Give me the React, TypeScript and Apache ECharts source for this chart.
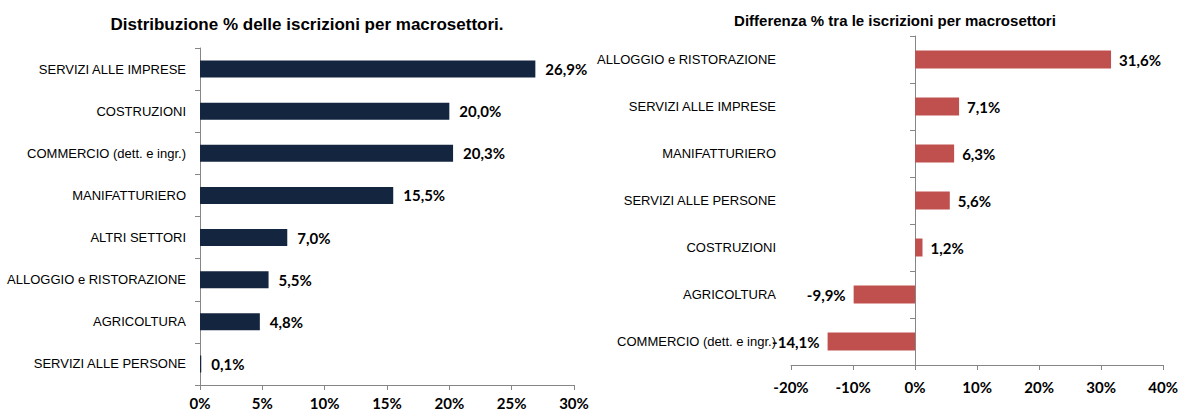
import React, { useEffect, useRef } from "react";
import * as echarts from "echarts";

const leftCategories = [
  "SERVIZI ALLE IMPRESE",
  "COSTRUZIONI",
  "COMMERCIO (dett. e ingr.)",
  "MANIFATTURIERO",
  "ALTRI SETTORI",
  "ALLOGGIO e RISTORAZIONE",
  "AGRICOLTURA",
  "SERVIZI ALLE PERSONE",
];
const leftValues = [26.9, 20.0, 20.3, 15.5, 7.0, 5.5, 4.8, 0.1];

const rightCategories = [
  "ALLOGGIO e RISTORAZIONE",
  "SERVIZI ALLE IMPRESE",
  "MANIFATTURIERO",
  "SERVIZI ALLE PERSONE",
  "COSTRUZIONI",
  "AGRICOLTURA",
  "COMMERCIO (dett. e ingr.)",
];
const rightValues = [31.6, 7.1, 6.3, 5.6, 1.2, -9.9, -14.1];

const leftTitle = "Distribuzione % delle iscrizioni per macrosettori.";
const rightTitle = "Differenza % tra le iscrizioni per macrosettori";

const SANS = "'Liberation Sans', Arial, sans-serif";
const BOLDNUM = "Lato, 'Open Sans', sans-serif";
const AXIS = "#868686";

const fmt = (v: number) => v.toFixed(1).replace(".", ",") + "%";

export default function App() {
  const ref = useRef<HTMLDivElement>(null);
  useEffect(() => {
    if (!ref.current) return;
    const chart = echarts.init(ref.current, null, { renderer: "svg" });
    const valueLabel = {
      fontFamily: BOLDNUM,
      fontWeight: "bold",
      fontSize: 15,
      color: "#000",
    };
    chart.setOption({
      animation: false,
      backgroundColor: "#ffffff",
      title: [
        {
          text: leftTitle,
          left: 302,
          textAlign: "center",
          top: 11,
          textStyle: { fontFamily: SANS, fontSize: 17, fontWeight: "bold", color: "#000" },
        },
        {
          text: rightTitle,
          left: 890,
          textAlign: "center",
          top: 8,
          textStyle: { fontFamily: SANS, fontSize: 15, fontWeight: "bold", color: "#000" },
        },
      ],
      grid: [
        { left: 200, width: 374, top: 48, height: 337 },
        { left: 791, width: 373, top: 36, height: 329 },
      ],
      xAxis: [
        {
          gridIndex: 0,
          type: "value",
          min: 0,
          max: 30,
          interval: 5,
          splitLine: { show: false },
          axisLine: { show: true, lineStyle: { color: AXIS } },
          axisTick: { show: true, length: 5, lineStyle: { color: AXIS } },
          axisLabel: {
            formatter: (v: number) => v + "%",
            ...valueLabel,
            margin: 10,
          },
        },
        {
          gridIndex: 1,
          type: "value",
          min: -20,
          max: 40,
          interval: 10,
          splitLine: { show: false },
          axisLine: { show: true, lineStyle: { color: AXIS } },
          axisTick: { show: true, length: 5, lineStyle: { color: AXIS } },
          axisLabel: {
            formatter: (v: number) => v + "%",
            ...valueLabel,
            margin: 14,
          },
        },
      ],
      yAxis: [
        {
          gridIndex: 0,
          type: "category",
          data: leftCategories,
          inverse: true,
          axisLine: { show: true, lineStyle: { color: AXIS } },
          axisTick: { show: true, length: 5, lineStyle: { color: AXIS } },
          axisLabel: { fontFamily: SANS, fontSize: 13, color: "#000", margin: 14 },
        },
        {
          gridIndex: 1,
          type: "category",
          data: rightCategories,
          inverse: true,
          axisLine: { show: true, onZero: true, lineStyle: { color: AXIS } },
          axisTick: { show: true, length: 5, lineStyle: { color: AXIS } },
          axisLabel: { fontFamily: SANS, fontSize: 13, color: "#000", margin: 15 },
        },
      ],
      series: [
        {
          type: "bar",
          xAxisIndex: 0,
          yAxisIndex: 0,
          data: leftValues,
          barWidth: 17,
          itemStyle: { color: "#14263f" },
          label: {
            show: true,
            position: "right",
            distance: 10,
            formatter: (p: any) => fmt(p.value),
            ...valueLabel,
          },
        },
        {
          type: "bar",
          xAxisIndex: 1,
          yAxisIndex: 1,
          data: rightValues.map((v) => ({
            value: v,
            label: { position: v < 0 ? "left" : "right" },
          })),
          barWidth: 18,
          itemStyle: { color: "#c0504d" },
          label: {
            show: true,
            distance: 8,
            formatter: (p: any) => fmt(p.value),
            ...valueLabel,
          },
        },
      ],
    });
    return () => chart.dispose();
  }, []);
  return (
    <div
      ref={ref}
      style={{ position: "absolute", left: 0, top: 0, width: 1181, height: 412 }}
    />
  );
}
